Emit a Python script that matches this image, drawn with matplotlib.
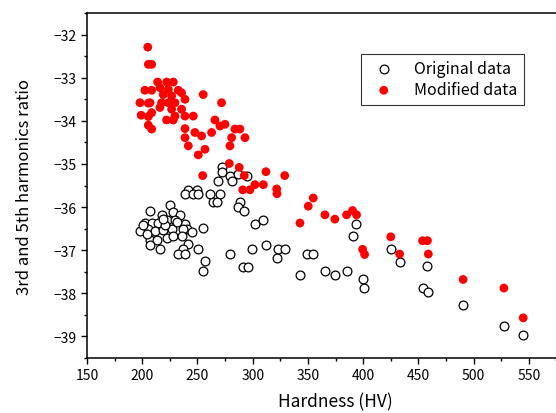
import numpy as np
import matplotlib
matplotlib.use('Agg')
import matplotlib.pyplot as plt
from matplotlib.ticker import MultipleLocator

plt.rcParams['font.family'] = ['Noto Sans CJK JP', 'DejaVu Sans']

# original data (hardness, ratio)
orig_hv = [207, 225.1, 228.1, 234.1, 217.5, 202.4, 208.5, 214.5, 222.1, 229.6, 238.7, 240.2,
           197.9, 205.5, 211.5, 219, 226.6, 237.2, 244.7, 255.2, 207, 213, 222.1, 228.1,
           235.6, 207, 216, 241.7, 237.2, 232.6, 238.7, 250.7, 256.8, 254.7, 201, 220.6,
           204, 231.1, 219.1,
           272, 272, 279.4, 268.8, 281, 287, 294.5, 241.7, 249.2, 238.7, 246.2, 250.7,
           261.3, 270.4, 264.3, 268, 288.5, 287, 292, 302, 309.6,
           279.4, 291.5, 296, 299, 312, 321.7, 323.2, 329.2,
           342.8, 349.4, 354.8, 365.4, 374.4, 385.3, 390.4, 393.4, 399.8, 401, 425.1,
           433, 453.8, 459.1, 458.2, 490.5, 527.4, 544.9]
orig_ratio = [-36.08, -35.96, -36.12, -36.18, -36.18, -36.36, -36.36, -36.36, -36.31, -36.29,
              -36.39, -36.5, -36.56, -36.5, -36.56, -36.54, -36.5, -36.5, -36.58, -36.48,
              -36.77, -36.77, -36.72, -36.67, -36.67, -36.89, -36.97, -36.85, -36.98, -37.08,
              -37.08, -36.98, -37.26, -37.48, -36.42, -36.42, -36.62, -36.35, -36.27,
              -35.08, -35.19, -35.27, -35.39, -35.39, -35.23, -35.29, -35.6, -35.6, -35.69,
              -35.69, -35.69, -35.69, -35.69, -35.89, -35.89, -35.89, -35.99, -36.09, -36.39,
              -36.29,
              -37.08, -37.39, -37.39, -36.98, -36.87, -37.18, -36.98, -36.98,
              -37.57, -37.09, -37.09, -37.48, -37.57, -37.48, -36.68, -36.39, -37.68, -37.87,
              -36.98, -37.28, -37.88, -37.97, -37.37, -38.27, -38.77, -38.97]

# modified data
mod_hv = [205, 205.5, 208.5, 213.9, 222.1, 228.1, 202.4, 208.5, 216, 223.6, 232.6,
          219, 226.6, 235.6, 255.2, 197.9, 205.5, 207, 217.5, 223.6, 229.6, 238.7, 271.8,
          199, 205.5, 208.5, 216, 226.6, 235.6, 229.6, 238.7, 246.2, 222, 228.1, 265.8,
          205.5, 208.5, 238.7, 247.7, 238.7, 253.7, 262.8, 270.3, 274.9, 283.9, 288.4,
          280.9, 293, 241.7, 256.8, 279.4, 250.7,
          278.8, 254.7, 287.8, 292.4, 312, 329, 291, 297.5, 302, 309.6, 321.7, 322,
          354.8, 350.3, 365.4, 342.8, 374.4, 385, 390.4, 394,
          399.5, 401.3, 425, 433, 453.8, 458.2, 459, 490.5, 527.4, 544.9]
mod_ratio = [-32.29, -32.69, -32.69, -33.10, -33.10, -33.10, -33.29, -33.29, -33.23, -33.27,
             -33.29, -33.39, -33.42, -33.35, -33.39, -33.58, -33.59, -33.58, -33.58, -33.58,
             -33.58, -33.50, -33.58, -33.87, -33.9, -33.81, -33.69, -33.73, -33.73, -33.89,
             -33.89, -33.89, -33.98, -33.98, -33.98, -34.10, -34.19, -34.18, -34.27, -34.39,
             -34.35, -34.27, -34.12, -34.08, -34.19, -34.19, -34.39, -34.39, -34.58, -34.66,
             -34.58, -34.79,
             -34.99, -35.27, -35.08, -35.27, -35.18, -35.27, -35.6, -35.6, -35.48, -35.48,
             -35.58, -35.69,
             -35.79, -35.98, -36.18, -36.37, -36.28, -36.18, -36.08, -36.18,
             -36.98, -37.10, -36.69, -37.09, -36.78, -36.78, -37.09, -37.68, -37.88, -38.57]

xticks = [150, 200, 250, 300, 350, 400, 450, 500, 550]

fig = plt.figure(figsize=(5.56, 4.14), dpi=100)
ax = fig.add_axes([0.1565, 0.133, 0.894, 0.833])

ax.scatter(orig_hv, orig_ratio, s=40, facecolors='white', edgecolors='black',
           linewidths=0.9, label='Original data', zorder=2)
ax.scatter(mod_hv, mod_ratio, s=40, color='red', edgecolors='none',
           label='Modified data', zorder=3)

ax.set_xlim(150, 600)
ax.set_ylim(-39.5, -31.5)
ax.set_xticks(xticks)
ax.xaxis.set_minor_locator(MultipleLocator(25))
ax.yaxis.set_major_locator(MultipleLocator(1))
ax.yaxis.set_minor_locator(MultipleLocator(0.5))
ax.tick_params(which='major', direction='out', length=4, width=1, labelsize=10)
ax.tick_params(which='minor', direction='out', length=2.5, width=1)
ax.tick_params(top=False, right=False)
for sp in ax.spines.values():
    sp.set_linewidth(1.1)

ax.set_xlabel('Hardness (HV)', fontsize=12.5, labelpad=7)
ax.set_ylabel('3rd and 5th harmonics ratio', fontsize=12, labelpad=15)

leg = ax.legend(loc='upper right', bbox_to_anchor=(0.942, 0.867),
                bbox_transform=fig.transFigure, fontsize=11.5, frameon=True,
                fancybox=False, edgecolor='black', handletextpad=0.9,
                borderpad=0.4, labelspacing=0.25, borderaxespad=0)
leg.get_frame().set_linewidth(0.8)

fig.savefig('out.png', dpi=100)
